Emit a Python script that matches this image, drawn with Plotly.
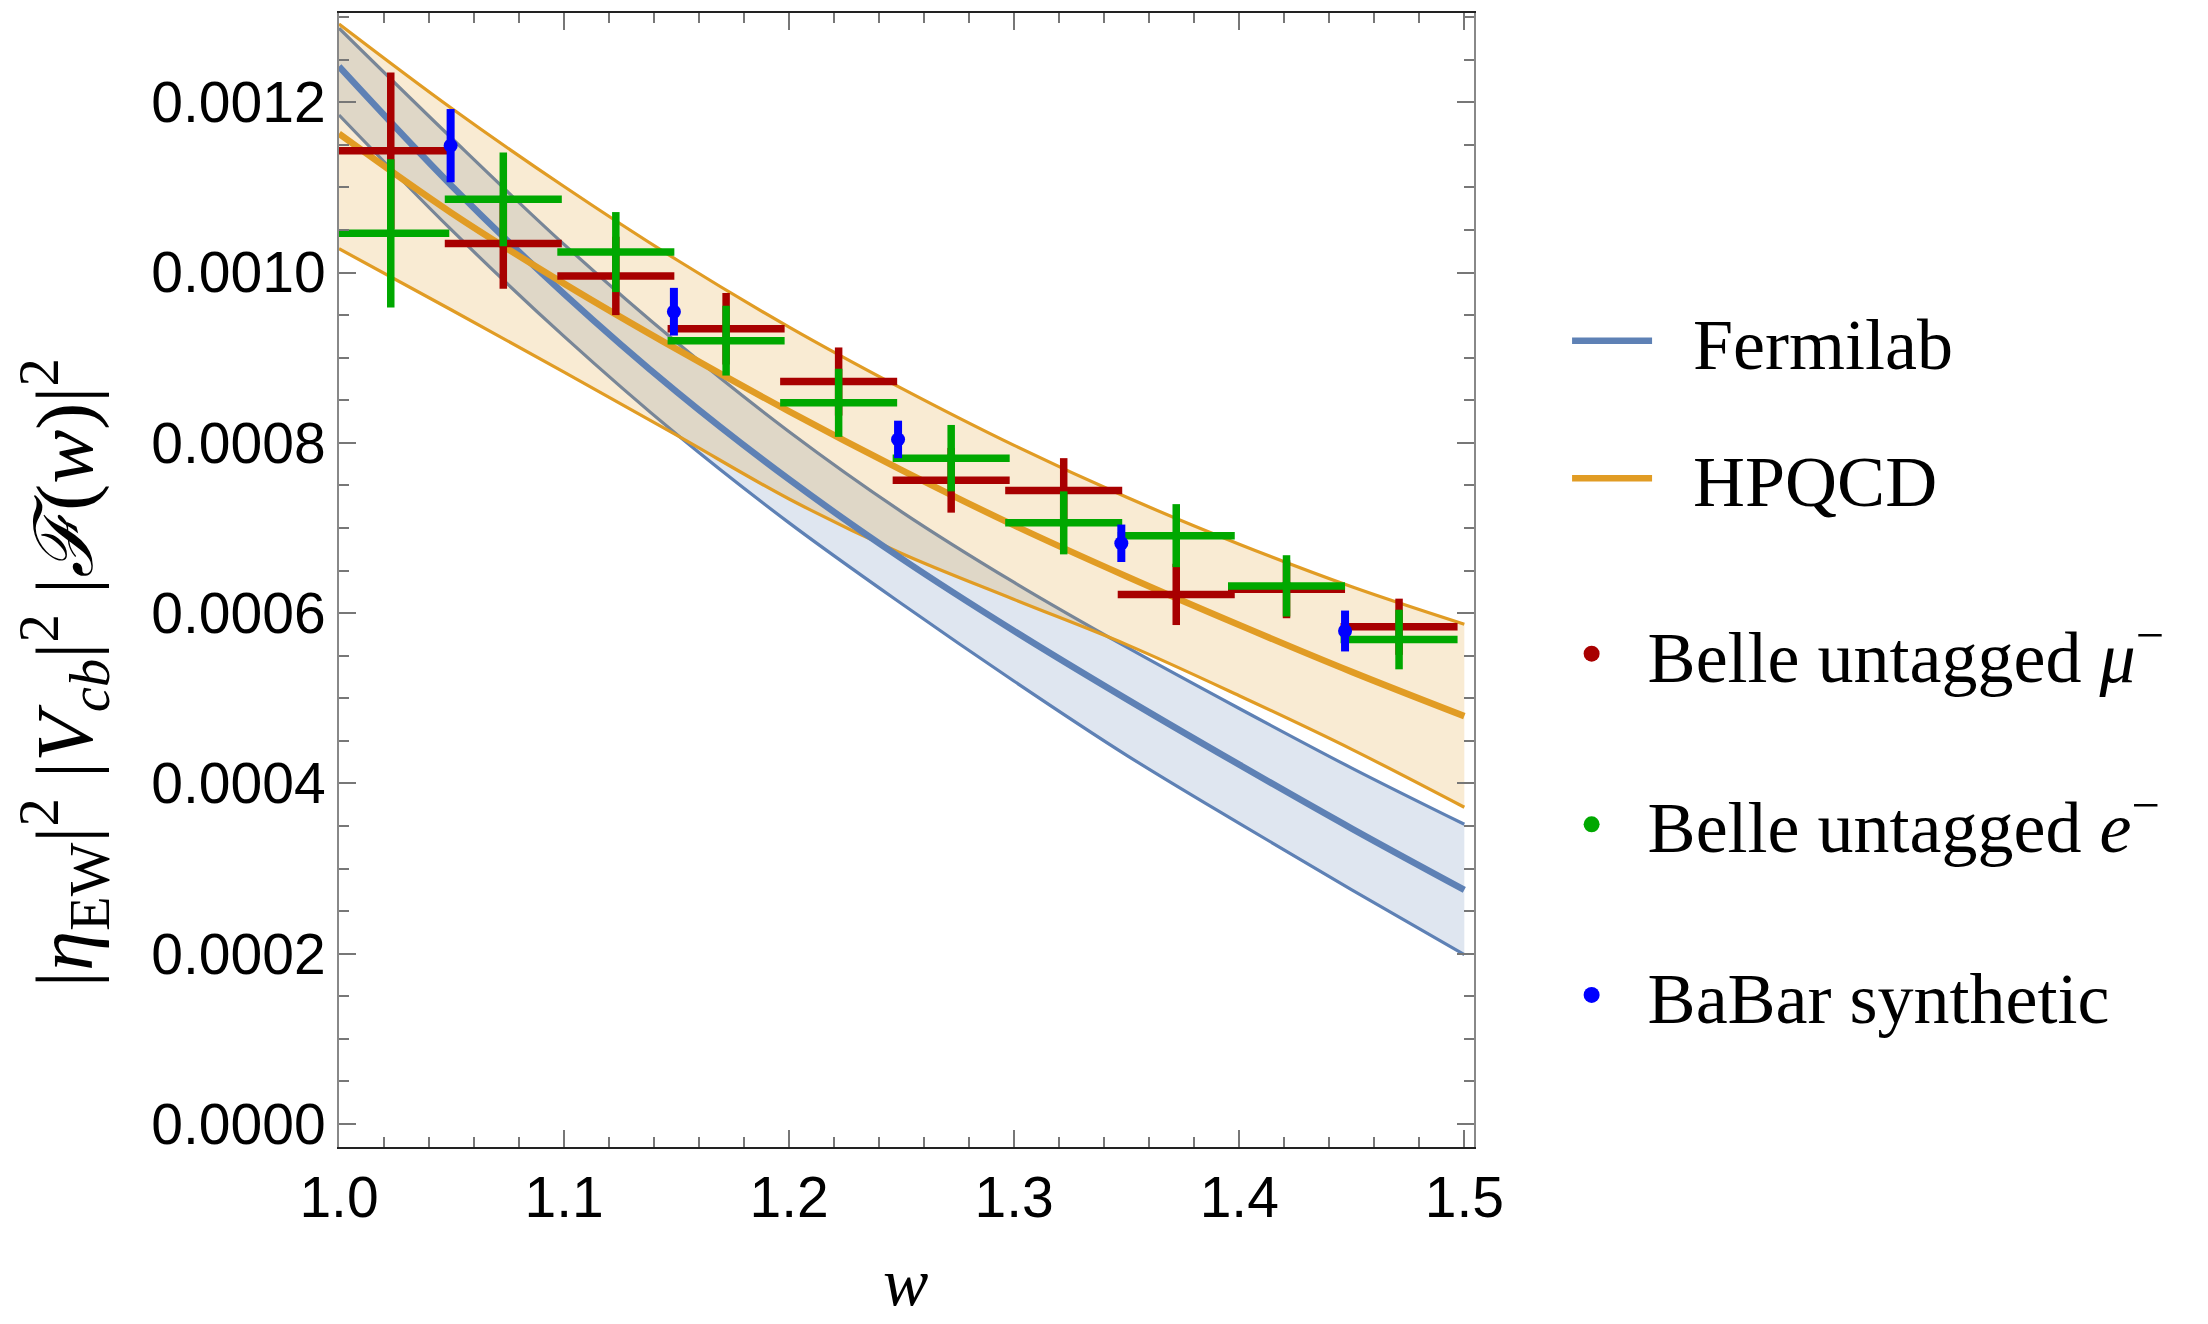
import plotly.graph_objects as go

# ---------------- data ----------------
w_grid = [1.0, 1.05, 1.1, 1.15, 1.2, 1.25, 1.3, 1.35, 1.4, 1.45, 1.5]

fermilab_upper = [0.001287, 0.001158, 0.001033, 0.000918, 0.000813, 0.000719,
                  0.000636, 0.000560, 0.000488, 0.000418, 0.000352]
fermilab_central = [0.001242, 0.001102, 0.000975, 0.000860, 0.000757, 0.000664,
                    0.000579, 0.000499, 0.000422, 0.000347, 0.000275]
fermilab_lower = [0.001185, 0.001050, 0.000925, 0.000810, 0.000706, 0.000611,
                  0.000520, 0.000433, 0.000353, 0.000275, 0.000199]

hpqcd_upper = [0.001292, 0.001193, 0.001101, 0.001015, 0.000936, 0.000864,
               0.000797, 0.000736, 0.000681, 0.000631, 0.000587]
hpqcd_central = [0.001163, 0.001070, 0.000987, 0.000910, 0.000837, 0.000768,
                 0.000703, 0.000643, 0.000586, 0.000531, 0.000479]
hpqcd_lower = [0.001028, 0.000956, 0.000883, 0.000809, 0.000734, 0.000670,
               0.000616, 0.000563, 0.000503, 0.000440, 0.000372]

belle_w = [1.023, 1.073, 1.123, 1.172, 1.222, 1.272, 1.322, 1.372, 1.421, 1.471]
belle_w_halfwidth = [0.026] * 10

belle_mu = [0.001143, 0.001034, 0.000996, 0.000934, 0.000872, 0.000756,
            0.000744, 0.000622, 0.000628, 0.000584]
belle_mu_err = [0.000092, 0.000053, 0.000046, 0.000042, 0.000040, 0.000038,
                0.000038, 0.000036, 0.000034, 0.000033]

belle_e = [0.001046, 0.001086, 0.001024, 0.000920, 0.000847, 0.000782,
           0.000706, 0.000691, 0.000632, 0.000569]
belle_e_err = [0.000087, 0.000055, 0.000047, 0.000041, 0.000040, 0.000039,
               0.000037, 0.000037, 0.000036, 0.000035]

babar_w = [1.0496, 1.1488, 1.2484, 1.3476, 1.447]
babar = [0.001149, 0.000954, 0.000804, 0.000682, 0.000579]
babar_err = [0.000043, 0.000028, 0.000022, 0.000022, 0.000024]

x_ticks = [1.0, 1.1, 1.2, 1.3, 1.4, 1.5]
y_ticks = [0.0, 0.0002, 0.0004, 0.0006, 0.0008, 0.0010, 0.0012]

# ---------------- styles ----------------
BLUE = "rgb(94,129,181)"
ORANGE = "rgb(225,156,36)"
BLUE_FILL = "rgba(94,129,181,0.2)"
ORANGE_FILL = "rgba(225,156,36,0.2)"
RED = "rgb(168,0,0)"
GREEN = "rgb(0,168,0)"
PBLUE = "rgb(0,0,255)"
SERIF = "Liberation Serif"
SANS = "Liberation Sans"
PAD = "\u00a0\u00a0"

fig = go.Figure()

# Fermilab band
fig.add_trace(go.Scatter(x=w_grid, y=fermilab_upper, mode="lines",
                         line=dict(color=BLUE, width=3.2, shape="spline"),
                         showlegend=False, hoverinfo="skip"))
fig.add_trace(go.Scatter(x=w_grid, y=fermilab_lower, mode="lines",
                         line=dict(color=BLUE, width=3.2, shape="spline"),
                         fill="tonexty", fillcolor=BLUE_FILL,
                         showlegend=False, hoverinfo="skip"))
# HPQCD band
fig.add_trace(go.Scatter(x=w_grid, y=hpqcd_upper, mode="lines",
                         line=dict(color=ORANGE, width=3.2, shape="spline"),
                         showlegend=False, hoverinfo="skip"))
fig.add_trace(go.Scatter(x=w_grid, y=hpqcd_lower, mode="lines",
                         line=dict(color=ORANGE, width=3.2, shape="spline"),
                         fill="tonexty", fillcolor=ORANGE_FILL,
                         showlegend=False, hoverinfo="skip"))
# central curves
fig.add_trace(go.Scatter(x=w_grid, y=fermilab_central, mode="lines",
                         name=PAD + "Fermilab", legend="legend", legendgroup="f",
                         line=dict(color=BLUE, width=6.5, shape="spline")))
fig.add_trace(go.Scatter(x=w_grid, y=hpqcd_central, mode="lines",
                         name=PAD + "HPQCD", legend="legend", legendgroup="h",
                         line=dict(color=ORANGE, width=6.5, shape="spline")))

# data points
fig.add_trace(go.Scatter(
    x=belle_w, y=belle_mu, mode="markers", showlegend=False,
    marker=dict(color=RED, size=10),
    error_x=dict(type="data", array=belle_w_halfwidth, color=RED, thickness=7.5, width=0),
    error_y=dict(type="data", array=belle_mu_err, color=RED, thickness=7.5, width=0)))
fig.add_trace(go.Scatter(
    x=belle_w, y=belle_e, mode="markers", showlegend=False,
    marker=dict(color=GREEN, size=10),
    error_x=dict(type="data", array=belle_w_halfwidth, color=GREEN, thickness=7.5, width=0),
    error_y=dict(type="data", array=belle_e_err, color=GREEN, thickness=7.5, width=0)))
fig.add_trace(go.Scatter(
    x=babar_w, y=babar, mode="markers", showlegend=False,
    marker=dict(color=PBLUE, size=14),
    error_y=dict(type="data", array=babar_err, color=PBLUE, thickness=8, width=0)))

# legend entries for data series
for nm, col, grp in [("Belle untagged <i>μ</i><sup>−</sup>", RED, "m"),
                     ("Belle untagged <i>e</i><sup>−</sup>", GREEN, "e"),
                     ("BaBar synthetic", PBLUE, "b")]:
    fig.add_trace(go.Scatter(x=[None], y=[None], mode="markers", name=PAD + nm,
                             legend="legend2", legendgroup=grp,
                             marker=dict(color=col, size=16)))

L, R, T, B = 339, 1474, 13, 1147
W, H = 2208, 1324

axis_common = dict(showgrid=False, zeroline=False, showline=True, linewidth=2,
                   mirror="allticks", ticks="inside", ticklen=17, tickwidth=1.5,
                   tickcolor="#777", tickfont=dict(family=SANS, size=57, color="black"))

fig.update_layout(
    width=W, height=H, autosize=False,
    margin=dict(l=L, r=W - R, t=T, b=H - B, pad=0),
    plot_bgcolor="white", paper_bgcolor="white",
    xaxis=dict(range=[1.0, 1.5043], tickmode="array", tickvals=x_ticks,
               ticktext=[f"{v:.1f}" for v in x_ticks], linecolor="#222",
               minor=dict(dtick=0.02, tick0=1.0, ticks="inside", ticklen=10,
                          tickwidth=1.5, tickcolor="#777", showgrid=False),
               **axis_common),
    yaxis=dict(range=[-0.000027, 0.0013048], tickmode="array", tickvals=y_ticks,
               ticktext=[f"{v:.4f}" for v in y_ticks], linecolor="#888",
               minor=dict(dtick=0.00005, tick0=0.0, ticks="inside", ticklen=10,
                          tickwidth=1.5, tickcolor="#777", showgrid=False),
               **axis_common),
    legend=dict(x=1.082, y=0.758, xanchor="left", yanchor="top",
                font=dict(family=SERIF, size=72, color="black"),
                tracegroupgap=41, itemwidth=80, bgcolor="rgba(0,0,0,0)"),
    legend2=dict(x=1.086, y=0.482, xanchor="left", yanchor="top",
                 font=dict(family=SERIF, size=72, color="black"),
                 tracegroupgap=74, bgcolor="rgba(0,0,0,0)"),
    annotations=[
        dict(text="|<i>η</i><sub>EW</sub>|<sup>2</sup> |<i>V</i><sub><i>cb</i></sub>|<sup>2</sup> |<i>ℱ</i>(<i>w</i>)|<sup>2</sup>",
             xref="paper", yref="paper", x=-0.242, y=0.418, textangle=-90,
             showarrow=False, xanchor="center", yanchor="middle",
             font=dict(family=SERIF, size=81, color="black")),
        dict(text="<i>w</i>", xref="paper", yref="paper", x=0.4987, y=-0.154,
             showarrow=False, xanchor="center", yanchor="bottom",
             font=dict(family=SERIF, size=68, color="black")),
    ],
)

fig.write_html("out.html")
